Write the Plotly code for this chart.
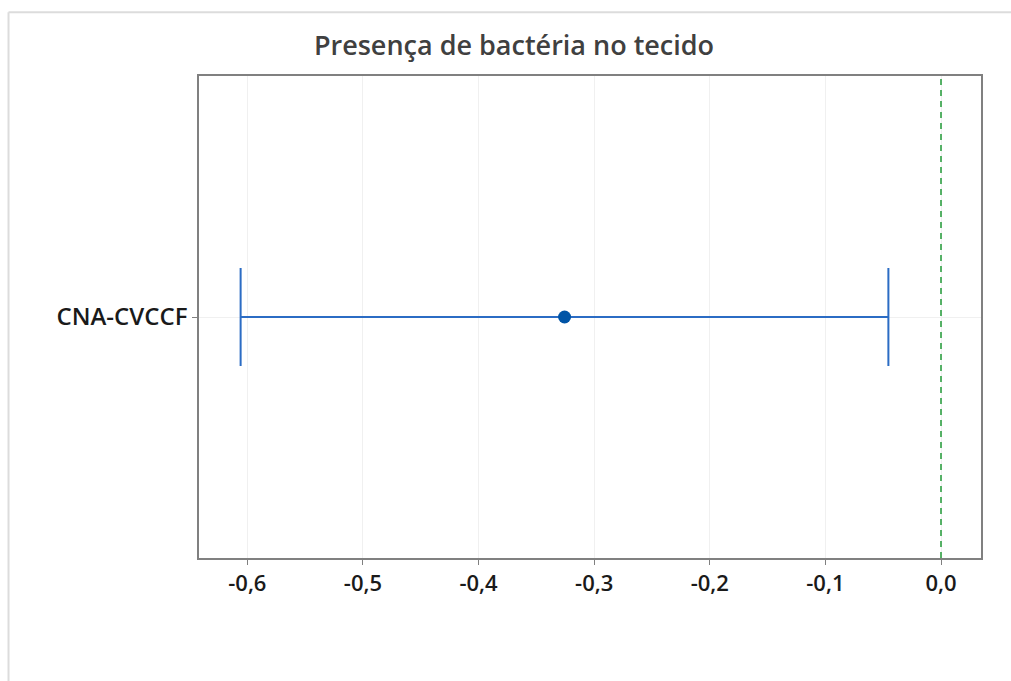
import plotly.graph_objects as go

categories = ["CNA-CVCCF"]
estimate = [-0.3256]
lower = [-0.6058]
upper = [-0.0455]
x_tickvals = [-0.6, -0.5, -0.4, -0.3, -0.2, -0.1, 0.0]
x_ticktext = ["-0,6", "-0,5", "-0,4", "-0,3", "-0,2", "-0,1", "0,0"]
reference_value = 0.0
title_text = "Presença de bactéria no tecido"

err_plus = [u - e for u, e in zip(upper, estimate)]
err_minus = [e - l for e, l in zip(estimate, lower)]

FONT = "Open Sans, Noto Sans, sans-serif"

fig = go.Figure()
fig.add_trace(go.Scatter(
    x=estimate, y=categories, mode="markers",
    marker=dict(color="#0054a6", size=13),
    error_x=dict(type="data", symmetric=False, array=err_plus, arrayminus=err_minus,
                 color="#2b6cc4", thickness=2, width=49),
    showlegend=False, hoverinfo="x+y",
))

fig.add_shape(type="line", xref="x", yref="paper", x0=reference_value, x1=reference_value,
              y0=0, y1=1, line=dict(color="#2ea043", width=1.6, dash="6px,5px"))

# outer window border (top and left)
fig.add_shape(type="line", xref="paper", yref="paper", x0=-0.2436, x1=1.2, y0=1.1322, y1=1.1322,
              line=dict(color="#dcdcdc", width=2))
fig.add_shape(type="line", xref="paper", yref="paper", x0=-0.2436, x1=-0.2436, y0=-0.3, y1=1.1322,
              line=dict(color="#dcdcdc", width=2))

fig.update_layout(
    width=1011, height=681,
    margin=dict(l=199, r=30, t=76, b=123),
    paper_bgcolor="white", plot_bgcolor="white",
    font=dict(family=FONT, color="#1a1a1a"),
    title=dict(text=title_text, x=514/1011, xref="container", xanchor="center",
               y=1-46/681, yref="container", yanchor="middle",
               font=dict(size=27, color="#404040", family=FONT, weight=600)),
)
fig.update_xaxes(
    range=[-0.6418, 0.0346], tickvals=x_tickvals, ticktext=x_ticktext,
    showgrid=True, gridcolor="#f0f0f0", gridwidth=1,
    showline=True, linecolor="#808080", linewidth=1.5, mirror=True,
    ticks="outside", ticklen=5, tickcolor="#808080",
    tickfont=dict(size=22, color="#1a1a1a", family=FONT, weight=600), zeroline=False,
)
fig.update_yaxes(
    type="category", range=[-1, 1],
    showgrid=True, gridcolor="#f0f0f0", gridwidth=1,
    showline=True, linecolor="#808080", linewidth=1.5, mirror=True,
    ticks="outside", ticklen=5, tickcolor="#808080",
    tickfont=dict(size=24, color="#1a1a1a", family=FONT, weight=600), zeroline=False,
)

fig.write_html("out.html", post_script="document.body.style.margin='0';",
               config={"displayModeBar": False})
